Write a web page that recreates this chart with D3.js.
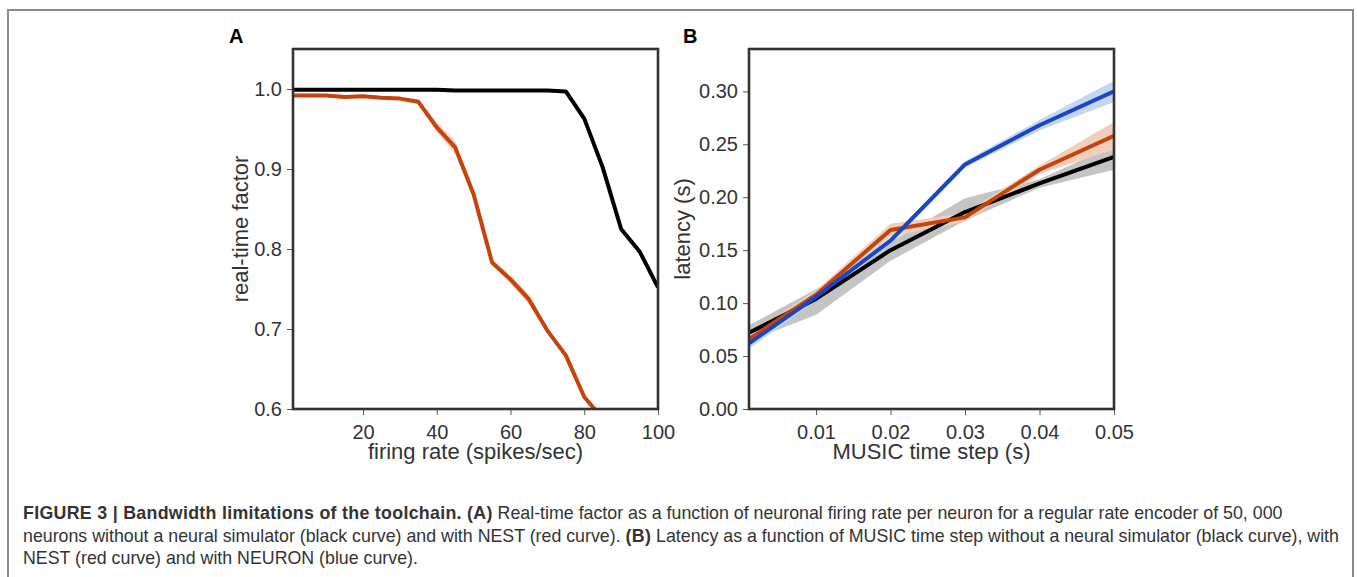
<!DOCTYPE html>
<html>
<head>
<meta charset="utf-8">
<script src="https://cdn.jsdelivr.net/npm/d3@7"></script>
<style>
  body { margin: 0; background: #fff; }
  svg { display: block; font-family: "Liberation Sans", Arial, sans-serif; }
  .tick text { font-size: 20px; fill: #333; }
  .tick line { stroke: #555; }
  .axis-title { font-size: 22px; fill: #333; }
  .panel-letter { font-size: 20px; font-weight: bold; fill: #000; }
</style>
</head>
<body>
<svg id="fig" width="1357" height="577"></svg>
<script>
// panel A: real-time factor vs firing rate
var rateX = [1, 5, 10, 15, 20, 25, 30, 35, 40, 45, 50, 55, 60, 65, 70, 75, 80, 85, 90, 95, 100];
var rtfBlack = [0.999, 0.999, 0.999, 0.999, 0.999, 0.999, 0.999, 0.999, 0.999, 0.998, 0.998, 0.998, 0.998, 0.998, 0.998, 0.997, 0.963, 0.902, 0.825, 0.797, 0.752];
var rtfBlackErr = [0.001, 0.001, 0.001, 0.001, 0.001, 0.001, 0.001, 0.001, 0.001, 0.001, 0.001, 0.001, 0.001, 0.001, 0.001, 0.001, 0.002, 0.002, 0.002, 0.002, 0.002];
var rtfRed = [0.992, 0.992, 0.992, 0.990, 0.991, 0.989, 0.988, 0.984, 0.952, 0.927, 0.868, 0.783, 0.762, 0.737, 0.698, 0.667, 0.615, 0.588, null, null, null];
var rtfRedErr = [0.002, 0.002, 0.002, 0.002, 0.002, 0.002, 0.002, 0.003, 0.006, 0.008, 0.004, 0.003, 0.005, 0.006, 0.004, 0.003, 0.003, 0.003, null, null, null];
var rateTicks = [20, 40, 60, 80, 100];
var rtfTicks = [0.6, 0.7, 0.8, 0.9, 1.0];

// panel B: latency vs MUSIC time step
var stepX = [0.001, 0.01, 0.02, 0.03, 0.04, 0.05];
var latBlack = [0.072, 0.104, 0.150, 0.186, 0.213, 0.238];
var latBlackLo = [0.064, 0.089, 0.140, 0.178, 0.209, 0.226];
var latBlackHi = [0.079, 0.113, 0.158, 0.199, 0.217, 0.249];
var latRed = [0.066, 0.108, 0.169, 0.181, 0.226, 0.258];
var latRedLo = [0.062, 0.104, 0.163, 0.177, 0.222, 0.245];
var latRedHi = [0.070, 0.112, 0.175, 0.185, 0.230, 0.271];
var latBlue = [0.062, 0.106, 0.159, 0.231, 0.268, 0.300];
var latBlueLo = [0.057, 0.102, 0.156, 0.228, 0.263, 0.290];
var latBlueHi = [0.066, 0.110, 0.162, 0.234, 0.273, 0.310];
var stepTicks = [0.01, 0.02, 0.03, 0.04, 0.05];
var latTicks = [0, 0.05, 0.10, 0.15, 0.20, 0.25, 0.30];

var captionLines = [
    [['FIGURE 3 | Bandwidth limitations of the toolchain. ', true], ['(A)', true], [' Real-time factor as a function of neuronal firing rate per neuron for a regular rate encoder of 50, 000', false]],
    [['neurons without a neural simulator (black curve) and with NEST (red curve). ', false], ['(B)', true], [' Latency as a function of MUSIC time step without a neural simulator (black curve), with', false]],
    [['NEST (red curve) and with NEURON (blue curve).', false]]
];

var colBlack = '#000000', colRed = '#c4440c', colBlue = '#1846c4';
var bandBlack = '#c4c4c4', bandRed = '#f2cfbd', bandBlue = '#c6d6f0';

var svg = d3.select('#fig');

// outer figure frame (open at the bottom)
svg.append('path')
    .attr('d', 'M8,580 L8,10 L1353,10 L1353,580')
    .attr('fill', 'none')
    .attr('stroke', '#8c8c8c')
    .attr('stroke-width', 2);

function panel(opt) {
    var x = d3.scaleLinear().domain(opt.xDomain).range([opt.left, opt.right]);
    var y = d3.scaleLinear().domain(opt.yDomain).range([opt.bottom, opt.top]);
    var g = svg.append('g');

    g.append('clipPath').attr('id', 'clip-' + opt.id)
        .append('rect')
        .attr('x', opt.left).attr('y', opt.top)
        .attr('width', opt.right - opt.left).attr('height', opt.bottom - opt.top);

    var plot = g.append('g').attr('clip-path', 'url(#clip-' + opt.id + ')');

    opt.series.forEach(s => {
        var pts = opt.xs.map((xv, i) => ({ x: xv, y: s.y[i], lo: s.lo[i], hi: s.hi[i] }))
            .filter(d => d.y != null);
        var area = d3.area().x(d => x(d.x)).y0(d => y(d.lo)).y1(d => y(d.hi));
        plot.append('path').datum(pts)
            .attr('d', area)
            .attr('fill', s.band);
    });
    opt.series.forEach(s => {
        var pts = opt.xs.map((xv, i) => ({ x: xv, y: s.y[i] })).filter(d => d.y != null);
        var line = d3.line().x(d => x(d.x)).y(d => y(d.y));
        plot.append('path').datum(pts)
            .attr('d', line)
            .attr('fill', 'none')
            .attr('stroke', s.color)
            .attr('stroke-width', 4)
            .attr('stroke-linejoin', 'round');
    });

    // axes
    var xa = g.append('g')
        .attr('transform', `translate(0,${opt.bottom})`)
        .call(d3.axisBottom(x).tickValues(opt.xTicks).tickFormat(d3.format(opt.xFmt)).tickSize(6).tickPadding(10));
    var ya = g.append('g')
        .attr('transform', `translate(${opt.left},0)`)
        .call(d3.axisLeft(y).tickValues(opt.yTicks).tickFormat(d3.format(opt.yFmt)).tickSize(6).tickPadding(5));
    [xa, ya].forEach(a => {
        a.select('.domain').remove();
        a.attr('font-family', null).attr('font-size', null);
    });

    g.append('rect')
        .attr('x', opt.left).attr('y', opt.top)
        .attr('width', opt.right - opt.left).attr('height', opt.bottom - opt.top)
        .attr('fill', 'none')
        .attr('stroke', '#333')
        .attr('stroke-width', 2.6);

    g.append('text')
        .attr('class', 'axis-title')
        .attr('x', (opt.left + opt.right) / 2)
        .attr('y', 459)
        .attr('text-anchor', 'middle')
        .text(opt.xTitle);
    g.append('text')
        .attr('class', 'axis-title')
        .attr('transform', `translate(${opt.yTitleX},${(opt.top + opt.bottom) / 2}) rotate(-90)`)
        .attr('text-anchor', 'middle')
        .text(opt.yTitle);

    g.append('text')
        .attr('class', 'panel-letter')
        .attr('x', opt.letterX)
        .attr('y', 43)
        .text(opt.letter);
}

panel({
    id: 'a', letter: 'A', letterX: 229,
    left: 293, right: 658, top: 49, bottom: 409,
    xDomain: [1, 100], yDomain: [0.6, 1.05],
    xTicks: rateTicks, yTicks: rtfTicks, xFmt: 'd', yFmt: '.1f',
    xTitle: 'firing rate (spikes/sec)', yTitle: 'real-time factor', yTitleX: 248,
    xs: rateX,
    series: [
        { y: rtfBlack, lo: rtfBlack.map((v, i) => v - rtfBlackErr[i]), hi: rtfBlack.map((v, i) => v + rtfBlackErr[i]), color: colBlack, band: bandBlack },
        { y: rtfRed, lo: rtfRed.map((v, i) => v == null ? null : v - rtfRedErr[i]), hi: rtfRed.map((v, i) => v == null ? null : v + rtfRedErr[i]), color: colRed, band: bandRed }
    ]
});

panel({
    id: 'b', letter: 'B', letterX: 683,
    left: 749, right: 1114, top: 49, bottom: 409,
    xDomain: [0.001, 0.05], yDomain: [0, 0.34],
    xTicks: stepTicks, yTicks: latTicks, xFmt: '.2f', yFmt: '.2f',
    xTitle: 'MUSIC time step (s)', yTitle: 'latency (s)', yTitleX: 690,
    xs: stepX,
    series: [
        { y: latBlack, lo: latBlackLo, hi: latBlackHi, color: colBlack, band: bandBlack },
        { y: latRed, lo: latRedLo, hi: latRedHi, color: colRed, band: bandRed },
        { y: latBlue, lo: latBlueLo, hi: latBlueHi, color: colBlue, band: bandBlue }
    ]
});

// caption
var cap = svg.append('g').attr('fill', '#333').style('font-family', '"Liberation Sans", Arial, sans-serif');
var capTexts = captionLines.map((parts, li) => {
    var t = cap.append('text')
        .attr('x', 23)
        .attr('y', 519 + li * 22.5)
        .style('font-size', '16px');
    parts.forEach(p => {
        t.append('tspan')
            .style('font-weight', p[1] ? 'bold' : 'normal')
            .style('letter-spacing', p[1] ? '0.3px' : null)
            .text(p[0]);
    });
    return t;
});
// fit font size so the second line spans the same width as in the figure
var w = capTexts[1].node().getComputedTextLength();
var fs = 16 * 1317 / w;
capTexts.forEach(t => t.style('font-size', fs + 'px'));
</script>
</body>
</html>
